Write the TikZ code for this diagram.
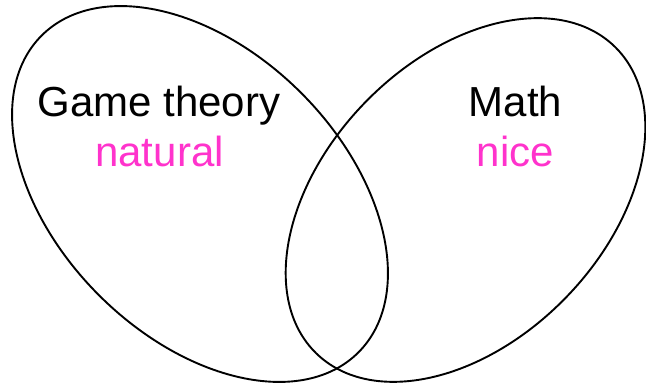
\documentclass[tikz,border=0pt]{standalone}
\usepackage{fontspec}
\setmainfont{Liberation Sans}
\definecolor{pinkish}{RGB}{255,51,204}
\begin{document}
\begin{tikzpicture}[x=1pt,y=-1pt,
  blob/.style={draw=black,line width=1.9pt},
  lbl/.style={anchor=base,inner sep=0pt,font=\fontsize{42}{48}\selectfont},
  sub/.style={lbl,text=pinkish}]
\useasboundingbox (0,0) rectangle (646,387);
\draw[blob,shift={(200,194)},rotate=-45] (0,0) ellipse [x radius=224pt, y radius=143pt];
\draw[blob,shift={(465.5,200)},rotate=45.8] (0,0) ellipse [x radius=214pt, y radius=140pt];
\node[lbl] (gt) at (159,117) {Game theory};
\node[sub] (nat) at (159.5,167) {natural};
\node[lbl] (math) at (515.5,117) {Math};
\node[sub] (nice) at (515.5,167) {nice};
\end{tikzpicture}
\end{document}
